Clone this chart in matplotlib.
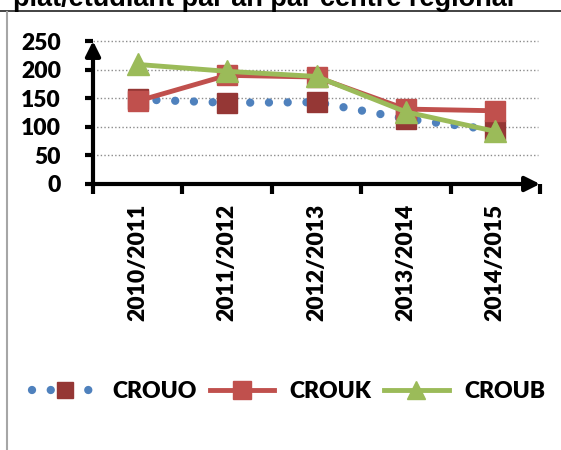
import matplotlib
matplotlib.use("Agg")
import matplotlib.pyplot as plt
from matplotlib.lines import Line2D

categories = ["2010/2011", "2011/2012", "2012/2013", "2013/2014", "2014/2015"]
crouo = [148, 142, 143, 114, 94]
crouk = [145, 190, 187, 131, 128]
croub = [209, 197, 188, 126, 92]
yticks = [0, 50, 100, 150, 200, 250]
title_text = "plat/étudiant par an par centre régional"

BLUE = "#4F81BD"
RED = "#C0504D"
DARKRED = "#953735"
GREEN = "#9BBB59"
WEIGHT = 800

plt.rcParams['font.family'] = ['Lato', 'DejaVu Sans']
plt.rcParams['font.weight'] = WEIGHT

W, H = 561, 450
fig = plt.figure(figsize=(W / 100, H / 100), dpi=100)

# document frame pieces
fig.add_artist(Line2D([0, 1], [1 - 10.8 / H, 1 - 10.8 / H], color="#222222", lw=1.2))
fig.add_artist(Line2D([6.8 / W, 6.8 / W], [0, 1 - 11.5 / H], color="#A6A6A6", lw=1.5))
fig.text(13 / W, 1 - 6.5 / H, title_text, fontsize=19.5, fontweight='bold',
         family=['Liberation Sans', 'DejaVu Sans'], va='baseline', ha='left')

left, right, top, bottom = 93, 540, 41, 184
ax = fig.add_axes([left / W, 1 - bottom / H, (right - left) / W, (bottom - top) / H])
x = list(range(len(categories)))
ax.set_xlim(-0.5, len(categories) - 0.5)
ax.set_ylim(0, 250)

for v in yticks[1:]:
    ax.plot([-0.5, len(categories) - 0.52], [v, v], color="#8C8C8C", lw=1.0,
            linestyle=(0, (1, 1.6)), zorder=1, clip_on=False)

ax.plot(x, crouo, color=BLUE, lw=6, linestyle=(0, (0.001, 2.25)),
        dash_capstyle='round', marker='s', markersize=14, markerfacecolor=DARKRED,
        markeredgecolor=DARKRED, zorder=3, label="CROUO")
ax.plot(x, crouk, color=RED, lw=3.5, marker='s', markersize=14.5,
        markerfacecolor=RED, markeredgecolor=RED, zorder=4, label="CROUK")
ax.plot(x, croub, color=GREEN, lw=3.5, marker='^', markersize=16,
        markerfacecolor=GREEN, markeredgecolor=GREEN, zorder=5, label="CROUB")

for s in ax.spines.values():
    s.set_visible(False)

# axes with arrows
ax.annotate('', xy=(0, 1.0), xytext=(0, 0), xycoords='axes fraction',
            arrowprops=dict(arrowstyle='-|>', lw=3, color='black', mutation_scale=22,
                            shrinkA=0, shrinkB=0), zorder=6)
ax.annotate('', xy=(1.0, 0), xytext=(0, 0), xycoords='axes fraction',
            arrowprops=dict(arrowstyle='-|>', lw=3, color='black', mutation_scale=22,
                            shrinkA=0, shrinkB=0), zorder=6)

ax.set_yticks(yticks)
ax.set_yticklabels([str(v) for v in yticks])
ax.tick_params(axis='y', direction='out', length=6, width=3, pad=17, labelsize=16.5)
ax.set_xticks(x)
ax.set_xticklabels(categories, rotation=90)
ax.tick_params(axis='x', which='major', length=0, pad=14, labelsize=16.5)
ax.set_xticks([i - 0.5 for i in range(len(categories) + 1)], minor=True)
ax.tick_params(axis='x', which='minor', direction='out', length=7, width=3)
for lab in ax.get_xticklabels() + ax.get_yticklabels():
    lab.set_fontweight(WEIGHT)

handles, labels = ax.get_legend_handles_labels()
leg = fig.legend(handles, labels, loc='center', bbox_to_anchor=(289 / W, 1 - 392 / H),
                 ncol=3, frameon=False, fontsize=16.5, handlelength=2.8,
                 handletextpad=0.7, columnspacing=0.55, numpoints=1, markerscale=0.85)
for t in leg.get_texts():
    t.set_fontweight(WEIGHT)

fig.savefig("out.png", dpi=100)
